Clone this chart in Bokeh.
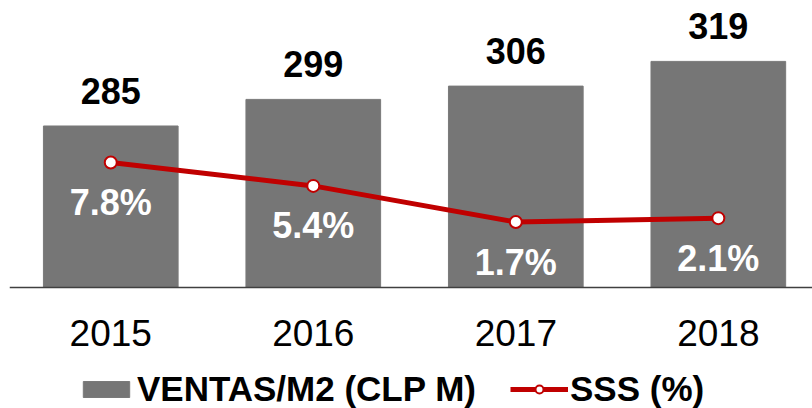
from bokeh.plotting import figure
from bokeh.models import Range1d, Legend, LegendItem, ColumnDataSource, Span
from bokeh.core.properties import value
from bokeh.embed import file_html
from bokeh.resources import INLINE

years = ["2015", "2016", "2017", "2018"]
ventas = [285, 299, 306, 319]
sss = [7.8, 5.4, 1.7, 2.1]
base = 200  # value at the category axis line

xs = list(range(len(years)))
src = ColumnDataSource(dict(
    x=xs,
    ventas=ventas,
    sss=sss,
    base=[base] * len(years),
    years=years,
    vlab=[str(v) for v in ventas],
    slab=[f"{v:.1f}%" for v in sss],
))

FONT = "Liberation Sans"

p = figure(frame_width=803, frame_height=400, output_backend="svg", toolbar_location=None,
           x_range=Range1d(-0.5, 3.465), y_range=Range1d(136.32, 346.84),
           x_axis_location=None, y_axis_location=None,
           min_border_left=9, min_border_right=0, min_border_top=8, min_border_bottom=0)
p.extra_y_ranges = {"sss": Range1d(-17.385, 23.557)}
p.outline_line_color = None
p.xgrid.visible = False
p.ygrid.visible = False
p.background_fill_color = "white"
p.border_fill_color = "white"

bars = p.vbar(x="x", top="ventas", width=0.665, bottom=base, source=src,
              fill_color="#767676", line_color="#7a7a7a", line_width=1)
p.text(x="x", y="ventas", text="vlab", source=src, text_align="center",
       text_baseline="middle", y_offset=-35, text_font=value(FONT),
       text_font_style="bold", text_font_size="36px", text_color="black")

# category axis line and labels
p.add_layout(Span(location=base, dimension="width", line_color="#404040", line_width=1.5))
p.text(x="x", y="base", text="years", source=src, text_align="center",
       text_baseline="middle", y_offset=45, text_font=value(FONT),
       text_font_size="37px", text_color="black")

line = p.line(x="x", y="sss", source=src, y_range_name="sss",
              line_color="#C00000", line_width=5)
marks = p.scatter(x="x", y="sss", source=src, y_range_name="sss", size=12,
                  fill_color="white", line_color="#C00000", line_width=2)
p.text(x="x", y="sss", text="slab", source=src, y_range_name="sss",
       text_align="center", text_baseline="middle", y_offset=40,
       text_font=value(FONT), text_font_style="bold", text_font_size="36px",
       text_color="white")

legend = Legend(items=[
    LegendItem(label="VENTAS/M2 (CLP M)", renderers=[bars]),
    LegendItem(label="SSS (%)", renderers=[line, marks]),
], orientation="horizontal", location=(68, -1))
legend.label_text_font = FONT
legend.label_text_font_style = "bold"
legend.label_text_font_size = "35px"
legend.label_text_color = "black"
legend.glyph_width = 58
legend.glyph_height = 20
legend.label_standoff = 2
legend.spacing = 34
legend.padding = 0
legend.margin = 0
legend.border_line_color = None
legend.background_fill_alpha = 0
p.add_layout(legend, "center")

open("out.html", "w").write(file_html(p, INLINE))
